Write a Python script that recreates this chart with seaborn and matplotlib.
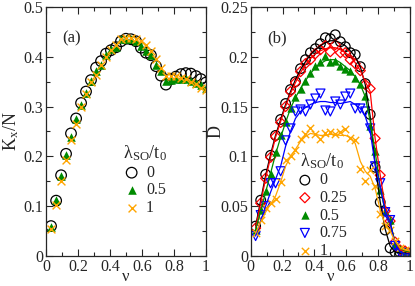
import seaborn as sns
import numpy as np
import pandas as pd
import matplotlib.pyplot as plt
from matplotlib.ticker import MultipleLocator

# filling factor grid
nu = [0.031, 0.063, 0.094, 0.125, 0.156, 0.188, 0.219, 0.25, 0.281, 0.313, 0.344,
      0.375, 0.406, 0.438, 0.469, 0.5, 0.531, 0.563, 0.594, 0.625, 0.656, 0.688,
      0.719, 0.75, 0.781, 0.813, 0.844, 0.875, 0.906, 0.938, 0.969, 1.0]

# panel (a): K_x/N
kx_0 = [0.060, 0.111, 0.162, 0.205, 0.246, 0.276, 0.307, 0.330, 0.353, 0.378, 0.391,
        0.406, 0.413, 0.419, 0.431, 0.436, 0.435, 0.431, 0.418, 0.408, 0.403, 0.381,
        0.362, 0.344, 0.355, 0.360, 0.365, 0.367, 0.366, 0.361, 0.355, 0.348]
kx_05 = [0.058, 0.112, 0.160, 0.202, 0.238, 0.275, 0.303, 0.328, 0.352, 0.372, 0.384,
         0.403, 0.415, 0.420, 0.435, 0.436, 0.435, 0.432, 0.421, 0.411, 0.404, 0.383,
         0.371, 0.351, 0.353, 0.355, 0.356, 0.355, 0.352, 0.348, 0.343, 0.337]
kx_1 = [0.055, 0.103, 0.150, 0.193, 0.232, 0.265, 0.300, 0.325, 0.350, 0.364, 0.383,
        0.400, 0.413, 0.423, 0.435, 0.437, 0.437, 0.435, 0.432, 0.424, 0.412, 0.396,
        0.378, 0.362, 0.362, 0.362, 0.358, 0.355, 0.350, 0.345, 0.338, 0.333]

# panel (b): D, markers
d_0 = [0.030, 0.056, 0.082, 0.101, 0.121, 0.137, 0.153, 0.167, 0.175, 0.188, 0.197,
       0.204, 0.208, 0.213, 0.219, 0.218, 0.222, 0.215, 0.210, 0.204, 0.202, 0.190,
       0.173, 0.142, 0.089, 0.054, 0.026, 0.008, 0.004, 0.003, 0.003, 0.002]
d_025 = [0.028, 0.053, 0.078, 0.099, 0.120, 0.134, 0.150, 0.165, 0.174, 0.185, 0.193,
         0.197, 0.203, 0.207, 0.211, 0.205, 0.212, 0.204, 0.204, 0.197, 0.193, 0.186,
         0.172, 0.168, 0.118, 0.081, 0.045, 0.035, 0.014, 0.006, 0.005, 0.003]
d_05 = [0.026, 0.046, 0.065, 0.082, 0.104, 0.121, 0.134, 0.149, 0.160, 0.168, 0.176,
        0.184, 0.191, 0.195, 0.201, 0.195, 0.196, 0.191, 0.188, 0.186, 0.179, 0.173,
        0.161, 0.130, 0.105, 0.066, 0.045, 0.036, 0.012, 0.007, 0.005, 0.004]
d_075 = [0.020, 0.041, 0.050, 0.073, 0.073, 0.085, 0.116, 0.128, 0.145, 0.147, 0.145,
         0.152, 0.158, 0.163, 0.146, 0.145, 0.155, 0.152, 0.160, 0.163, 0.148, 0.148,
         0.145, 0.128, 0.090, 0.073, 0.044, 0.036, 0.010, 0.003, 0.002, 0.002]
d_1 = [0.023, 0.036, 0.048, 0.053, 0.057, 0.074, 0.096, 0.100, 0.106, 0.117, 0.122,
       0.128, 0.122, 0.117, 0.123, 0.124, 0.122, 0.124, 0.127, 0.118, 0.116, 0.087,
       0.075, 0.086, 0.070, 0.042, 0.030, 0.026, 0.015, 0.008, 0.006, 0.005]

# panel (b): smooth curves
f_0 = [0.030, 0.056, 0.081, 0.102, 0.121, 0.137, 0.152, 0.165, 0.177, 0.187, 0.195,
       0.202, 0.207, 0.211, 0.214, 0.216, 0.216, 0.214, 0.211, 0.206, 0.200, 0.190,
       0.172, 0.140, 0.092, 0.054, 0.027, 0.010, 0.004, 0.003, 0.003, 0.002]
f_025 = [0.028, 0.053, 0.078, 0.099, 0.119, 0.135, 0.150, 0.163, 0.174, 0.184, 0.192,
         0.198, 0.203, 0.206, 0.208, 0.209, 0.209, 0.207, 0.204, 0.200, 0.194, 0.186,
         0.175, 0.165, 0.118, 0.081, 0.050, 0.032, 0.014, 0.006, 0.005, 0.003]
f_05 = [0.026, 0.045, 0.064, 0.083, 0.102, 0.119, 0.134, 0.148, 0.159, 0.168, 0.176,
        0.183, 0.189, 0.193, 0.196, 0.197, 0.197, 0.194, 0.190, 0.186, 0.180, 0.172,
        0.160, 0.135, 0.105, 0.068, 0.045, 0.034, 0.014, 0.008, 0.005, 0.004]
f_075 = [0.020, 0.035, 0.050, 0.064, 0.077, 0.090, 0.110, 0.125, 0.138, 0.145, 0.149,
         0.152, 0.154, 0.155, 0.155, 0.154, 0.154, 0.153, 0.154, 0.155, 0.152, 0.148,
         0.140, 0.125, 0.092, 0.070, 0.045, 0.034, 0.012, 0.004, 0.002, 0.002]
f_1 = [0.023, 0.034, 0.044, 0.052, 0.060, 0.074, 0.090, 0.100, 0.107, 0.115, 0.120,
       0.123, 0.122, 0.121, 0.121, 0.122, 0.122, 0.121, 0.121, 0.119, 0.113, 0.095,
       0.085, 0.080, 0.068, 0.046, 0.032, 0.025, 0.015, 0.008, 0.006, 0.005]

labels_a = ['0', '0.5', '1']
labels_b = ['0', '0.25', '0.5', '0.75', '1']

sns.set_style('ticks')
plt.rcParams['font.family'] = ['Liberation Serif', 'DejaVu Serif']
plt.rcParams['mathtext.fontset'] = 'stix'

fig = plt.figure(figsize=(4.15, 2.86), dpi=100)
ax1 = fig.add_axes([0.111, 0.105, 0.385, 0.871])
ax2 = fig.add_axes([0.604, 0.105, 0.384, 0.871])

# marker, color, filled, size
sty_a = [('o', 'black', False, 58), ('^', '#008b00', True, 38), ('x', '#ffa500', True, 32)]
sty_b = [('o', 'black', False, 48), ('D', 'red', False, 26), ('^', '#008b00', True, 36),
         ('v', 'blue', False, 42), ('x', '#ffa500', True, 28)]

for vals, lab, (m, c, filled, s) in zip([kx_0, kx_05, kx_1], labels_a, sty_a):
    if filled:
        sns.scatterplot(x=nu, y=vals, marker=m, color=c, s=s, linewidth=1 if m == 'x' else 0,
                        label=lab, ax=ax1)
    else:
        sns.scatterplot(x=nu, y=vals, marker=m, facecolor='none', edgecolor=c, s=s,
                        linewidth=0.9, label=lab, ax=ax1)

for vals, fit, lab, (m, c, filled, s) in zip([d_0, d_025, d_05, d_075, d_1],
                                            [f_0, f_025, f_05, f_075, f_1], labels_b, sty_b):
    sns.lineplot(x=nu, y=fit, color=c, linewidth=0.9, ax=ax2)
    if filled:
        sns.scatterplot(x=nu, y=vals, marker=m, color=c, s=s, linewidth=1 if m == 'x' else 0,
                        label=lab, ax=ax2)
    else:
        sns.scatterplot(x=nu, y=vals, marker=m, facecolor='none', edgecolor=c, s=s,
                        linewidth=0.9, label=lab, ax=ax2)

for ax in (ax1, ax2):
    ax.set_xlim(0, 1)
    ax.set_xticks([0, 0.2, 0.4, 0.6, 0.8, 1.0])
    ax.set_xticklabels(['0', '0.2', '0.4', '0.6', '0.8', '1'])
    ax.xaxis.set_minor_locator(MultipleLocator(0.1))
    ax.tick_params(which='both', direction='in', top=True, right=True, labelsize=11.5, pad=2)
    ax.tick_params(which='major', length=5, width=0.8)
    ax.tick_params(which='minor', length=3, width=0.8)
    ax.set_xlabel('ν', fontsize=12)
    ax.xaxis.set_label_coords(0.5, -0.052)
    for sp in ax.spines.values():
        sp.set_linewidth(0.9)

ax1.set_ylim(0, 0.5)
ax1.set_yticks([0, 0.1, 0.2, 0.3, 0.4, 0.5])
ax1.set_yticklabels(['0', '0.1', '0.2', '0.3', '0.4', '0.5'])
ax1.yaxis.set_minor_locator(MultipleLocator(0.05))
ax1.set_ylabel(r'K$_\mathregular{x}$/N', fontsize=13)
ax1.yaxis.set_label_coords(-0.16, 0.5)

ax2.set_ylim(0, 0.25)
ax2.set_yticks([0, 0.05, 0.1, 0.15, 0.2, 0.25])
ax2.set_yticklabels(['0', '0.05', '0.1', '0.15', '0.2', '0.25'])
ax2.yaxis.set_minor_locator(MultipleLocator(0.025))
ax2.set_ylabel('D', fontsize=13)
ax2.yaxis.set_label_coords(-0.165, 0.5)

ax1.text(0.1, 0.875, '(a)', transform=ax1.transAxes, fontsize=12, va='center')
ax2.text(0.107, 0.875, '(b)', transform=ax2.transAxes, fontsize=12, va='center')

title = 'λ$_\\mathregular{SO}$/t$_\\mathregular{0}$'
leg1 = ax1.legend(title=title, loc='upper left', bbox_to_anchor=(0.48, 0.45), frameon=False,
                  fontsize=11.5, title_fontsize=13, handletextpad=0.4, labelspacing=0.1,
                  borderaxespad=0, handlelength=1.0, borderpad=0)
leg2 = ax2.legend(title=title, loc='upper left', bbox_to_anchor=(0.29, 0.42), frameon=False,
                  fontsize=11.5, title_fontsize=13, handletextpad=0.4, labelspacing=0.1,
                  borderaxespad=0, handlelength=1.0, borderpad=0)

fig.savefig('out.png', dpi=100)
